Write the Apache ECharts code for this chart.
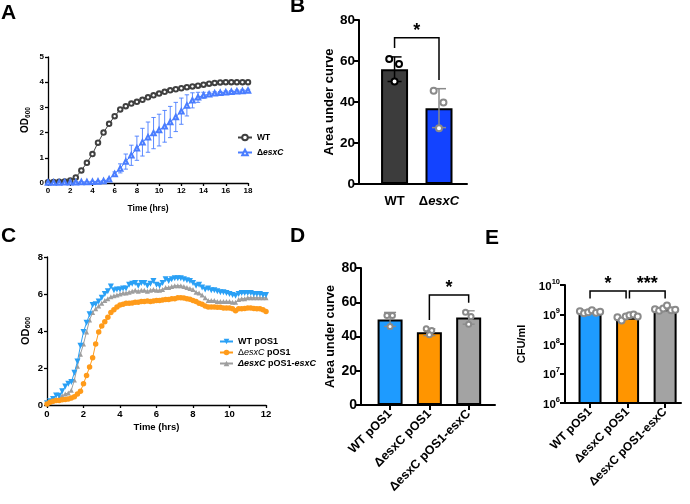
<!DOCTYPE html>
<html>
<head>
<meta charset="utf-8">
<script src="https://cdn.jsdelivr.net/npm/echarts@6/dist/echarts.min.js"></script>
<style>
html, body { margin: 0; padding: 0; background: #fff; }
#divChart { width: 690px; height: 504px; }
</style>
</head>
<body>
<div id="divChart"></div>
<script>
// ---------- panel A : growth curves, one reading every 0.5 h ----------
var stepA = 0.5;
var wtOdA   = [0.03,0.04,0.05,0.06,0.1,0.22,0.5,0.8,1.15,1.6,2.0,2.35,2.65,2.92,3.05,3.15,3.22,3.3,3.4,3.48,3.55,3.62,3.68,3.72,3.76,3.8,3.83,3.86,3.9,3.94,3.97,3.99,4.0,4.0,4.0,4.0,4.0];
var wtSdA   = [0.02,0.02,0.02,0.02,0.03,0.04,0.05,0.06,0.07,0.07,0.07,0.06,0.06,0.05,0.05,0.04,0.04,0.04,0.04,0.04,0.04,0.04,0.04,0.04,0.04,0.04,0.04,0.04,0.04,0.04,0.04,0.04,0.04,0.04,0.04,0.04,0.04];
var esxcOdA = [0.02,0.02,0.02,0.03,0.03,0.03,0.04,0.04,0.05,0.06,0.08,0.15,0.36,0.58,0.85,1.1,1.38,1.62,1.82,1.98,2.1,2.25,2.42,2.62,2.85,3.08,3.28,3.4,3.48,3.52,3.56,3.58,3.6,3.62,3.64,3.65,3.67];
var esxcSdA = [0.02,0.02,0.02,0.02,0.02,0.02,0.02,0.02,0.02,0.02,0.02,0.03,0.08,0.18,0.3,0.4,0.48,0.55,0.6,0.62,0.63,0.63,0.62,0.58,0.52,0.42,0.3,0.2,0.12,0.08,0.06,0.05,0.05,0.05,0.05,0.05,0.05];

// ---------- panel B : area under curve ----------
var catsB = ['WT', 'ΔesxC'];
var meanB = [56, 37];
var sdB = [6, 9.5];
var ptsB = [[61, 58.5, 50], [45.5, 39.8, 27.2]];

// ---------- panel C : growth curves, one reading every 10 min ----------
var stepC = 1 / 6;
var wtOdC = [0.1,0.2,0.32,0.52,0.5,0.75,1.0,1.15,1.25,1.75,2.35,3.2,3.95,4.45,4.9,5.4,5.45,5.6,5.8,6.0,
  6.15,6.4,6.2,6.25,6.25,6.3,6.3,6.5,6.55,6.6,6.45,6.6,6.6,6.45,6.55,6.7,6.5,6.45,6.6,6.8,
  6.7,6.8,6.85,6.85,6.85,6.8,6.75,6.7,6.6,6.45,6.5,6.35,6.25,6.3,6.2,6.2,6.15,6.1,6.1,6.05,
  6.0,5.95,5.9,6.0,6.05,6.05,6.05,6.05,6.0,6.0,6.0,5.95,5.95];
var mutOdC = [0.05,0.15,0.2,0.25,0.25,0.28,0.3,0.32,0.38,0.45,0.6,0.75,1.15,1.6,2.05,2.55,3.3,3.95,4.27,4.5,
  4.75,5.0,5.15,5.3,5.4,5.45,5.5,5.5,5.52,5.55,5.55,5.6,5.6,5.62,5.6,5.62,5.65,5.65,5.68,5.7,
  5.7,5.75,5.75,5.8,5.8,5.78,5.75,5.72,5.65,5.6,5.5,5.45,5.35,5.3,5.3,5.3,5.28,5.28,5.25,5.25,
  5.25,5.2,5.1,5.2,5.2,5.22,5.25,5.25,5.22,5.2,5.2,5.15,5.05];
var compOdC = [0.1,0.15,0.25,0.3,0.4,0.5,0.6,0.65,0.8,1.35,2.1,2.75,3.3,3.95,4.6,5.0,5.2,5.35,5.5,5.65,
  5.75,5.85,5.9,5.95,6.0,6.05,6.05,6.1,6.15,6.2,6.15,6.2,6.2,6.15,6.2,6.25,6.2,6.2,6.25,6.35,
  6.35,6.4,6.45,6.45,6.45,6.4,6.35,6.3,6.25,6.1,6.05,5.95,5.8,5.65,5.65,5.65,5.6,5.6,5.6,5.6,
  5.6,5.55,5.55,5.7,5.75,5.75,5.8,5.8,5.8,5.8,5.8,5.8,5.8];

// ---------- panels D and E ----------
var catsDE = ['WT pOS1', 'ΔesxC pOS1', 'ΔesxC pOS1-esxC'];
var meanD = [50, 42.5, 51.1];
var sdD = [4.1, 2.0, 3.9];
var ptsD = [[52.3, 52.3, 45.8], [44.5, 43.5, 41], [54.2, 51.7, 47.2]];
var meanE = [1.24e9, 7.8e8, 1.5e9];
var ptsE = [[1.3e9, 1.1e9, 1.2e9, 1.4e9, 1.15e9, 1.25e9],
            [8.0e8, 6.2e8, 8.5e8, 9.5e8, 1.0e9, 8.5e8],
            [1.5e9, 1.35e9, 1.6e9, 2.0e9, 1.4e9, 1.45e9]];

var FONT = '"Liberation Sans", Arial, sans-serif';
var colA = ['#404040', '#4a7dff'];
var colB = ['#3c3c3c', '#1343ff'];
var colC = ['#2aa0f5', '#ff9b1a', '#9e9e9e'];
var colDE = ['#1e9bff', '#ff9500', '#a3a3a3'];
var ptGray = '#8a8a8a';

// bar panels use a value x axis so the gaps match the original
var startB = 0.8, startD = 0.74, startE = 0.667;
var jitB = [-0.12, 0.1, 0];
var jitD = [-0.08, 0.06, 0];
var jitE = [-0.27, -0.16, -0.05, 0.05, 0.16, 0.27];

function seq(vals, step) {
  return vals.map(function (v, i) { return [i * step, v]; });
}

function errorBars(gi, rows, colors, cap, lw, z) {
  return {
    type: 'custom', xAxisIndex: gi, yAxisIndex: gi, z: z || 4, silent: true,
    encode: { x: 0, y: [1, 2] },
    data: rows,
    renderItem: function (params, api) {
      var x = api.value(0);
      var top = api.coord([x, api.value(2)]);
      var bot = api.coord([x, api.value(1)]);
      var c = typeof colors === 'string' ? colors : colors[params.dataIndex];
      var st = { stroke: c, lineWidth: lw };
      return { type: 'group', children: [
        { type: 'line', shape: { x1: top[0], y1: top[1], x2: bot[0], y2: bot[1] }, style: st },
        { type: 'line', shape: { x1: top[0] - cap, y1: top[1], x2: top[0] + cap, y2: top[1] }, style: st },
        { type: 'line', shape: { x1: bot[0] - cap, y1: bot[1], x2: bot[0] + cap, y2: bot[1] }, style: st }
      ] };
    }
  };
}

function brackets(gi, rows, marks) {
  return {
    type: 'custom', xAxisIndex: gi, yAxisIndex: gi, z: 6, silent: true,
    encode: { x: [0, 1], y: [2, 3, 4] },
    data: rows,
    renderItem: function (params, api) {
      var x1 = api.value(0), x2 = api.value(1);
      var a = api.coord([x1, api.value(3)]), b = api.coord([x1, api.value(2)]);
      var c = api.coord([x2, api.value(2)]), d = api.coord([x2, api.value(4)]);
      return { type: 'group', children: [
        { type: 'polyline', shape: { points: [a, b, c, d] }, style: { stroke: '#000', lineWidth: 1.5, fill: null } },
        { type: 'text', style: { text: marks[params.dataIndex], x: (b[0] + c[0]) / 2, y: b[1] + 2,
          align: 'center', verticalAlign: 'bottom', font: 'bold 18px ' + FONT, fill: '#000' } }
      ] };
    }
  };
}

function barSeries(gi, start, vals, colors, width) {
  return {
    type: 'bar', xAxisIndex: gi, yAxisIndex: gi, barWidth: width, z: 2, silent: true,
    data: vals.map(function (v, i) {
      return { value: [start + i, v], itemStyle: { color: colors[i], borderColor: '#000', borderWidth: 2 } };
    })
  };
}

function pointSeries(gi, start, pts, jit, colors, size) {
  var data = [];
  pts.forEach(function (row, i) {
    row.forEach(function (v, k) {
      data.push({ value: [start + i + jit[k], v], itemStyle: { color: typeof colors === 'string' ? colors : colors[i] } });
    });
  });
  return { type: 'scatter', xAxisIndex: gi, yAxisIndex: gi, z: 7, silent: true,
    symbol: 'emptyCircle', symbolSize: size, itemStyle: { borderWidth: 1.4, opacity: 1 }, data: data };
}

function lineAxis(o) {
  return Object.assign({
    type: 'value',
    axisLine: { show: true, onZero: false, lineStyle: { color: '#000', width: o.lw } },
    axisTick: { show: true, length: o.tick, lineStyle: { color: '#000', width: o.lw } },
    splitLine: { show: false },
    nameLocation: 'middle'
  }, o.extra);
}

var catFmt = {
  'WT': 'WT',
  'ΔesxC': 'Δ{i|esxC}'
};

var option = {
  animation: false,
  backgroundColor: '#fff',
  textStyle: { fontFamily: FONT },
  grid: [
    { left: 48, top: 57, width: 200, height: 126, outerBoundsMode: 'none' },
    { left: 359, top: 20, width: 108, height: 164, outerBoundsMode: 'none' },
    { left: 47, top: 257, width: 219, height: 148, outerBoundsMode: 'none' },
    { left: 361, top: 268, width: 134, height: 137, outerBoundsMode: 'none' },
    { left: 565, top: 285, width: 116, height: 118, outerBoundsMode: 'none' }
  ],
  xAxis: [
    lineAxis({ lw: 1.3, tick: 3, extra: { gridIndex: 0, min: 0, max: 18, interval: 2,
      axisLabel: { fontSize: 8, fontWeight: 'bold', color: '#000', margin: 4 },
      name: 'Time (hrs)', nameGap: 21, nameTextStyle: { fontSize: 8.5, fontWeight: 'bold', color: '#000' } } }),
    lineAxis({ lw: 2, tick: 0, extra: { gridIndex: 1, min: 0, max: 2.43,
      axisTick: { show: false },
      axisLabel: { customValues: catsB.map(function (c, i) { return startB + i; }), fontSize: 13, fontWeight: 'bold', color: '#000', margin: 11,
        formatter: function (v) { return catFmt[catsB[Math.round(v - startB)]]; },
        rich: { i: { fontSize: 13, fontWeight: 'bold', fontStyle: 'italic', color: '#000' } } } } }),
    lineAxis({ lw: 1.3, tick: 3, extra: { gridIndex: 2, min: 0, max: 12, interval: 2,
      axisLabel: { fontSize: 9.5, fontWeight: 'bold', color: '#000', margin: 4 },
      name: 'Time (hrs)', nameGap: 17, nameTextStyle: { fontSize: 9.5, fontWeight: 'bold', color: '#000' } } }),
    lineAxis({ lw: 2, tick: 5, extra: { gridIndex: 3, min: 0, max: 3.41,
      axisTick: { show: true, length: 5, customValues: catsDE.map(function (c, i) { return startD + i; }), lineStyle: { color: '#000', width: 2 } },
      axisLabel: { customValues: catsDE.map(function (c, i) { return startD + i; }), rotate: 45, fontSize: 12.5, fontWeight: 'bold', color: '#000', margin: 7,
        formatter: function (v) { return catsDE[Math.round(v - startD)]; } } } }),
    lineAxis({ lw: 2, tick: 5, extra: { gridIndex: 4, min: 0, max: 3.09,
      axisTick: { show: true, length: 5, customValues: catsDE.map(function (c, i) { return startE + i; }), lineStyle: { color: '#000', width: 2 } },
      axisLabel: { customValues: catsDE.map(function (c, i) { return startE + i; }), rotate: 45, fontSize: 12, fontWeight: 'bold', color: '#000', margin: 7,
        formatter: function (v) { return catsDE[Math.round(v - startE)]; } } } })
  ],
  yAxis: [
    lineAxis({ lw: 1.3, tick: 3, extra: { gridIndex: 0, min: 0, max: 5, interval: 1,
      axisLabel: { fontSize: 8, fontWeight: 'bold', color: '#000', margin: 4 },
      name: 'OD{s|600}', nameGap: 16,
      nameTextStyle: { fontSize: 10, fontWeight: 'bold', color: '#000',
        rich: { s: { fontSize: 6.5, fontWeight: 'bold', color: '#000', verticalAlign: 'bottom', padding: [6, 0, 0, 0] } } } } }),
    lineAxis({ lw: 2, tick: 5, extra: { gridIndex: 1, min: 0, max: 80, interval: 20,
      axisLabel: { fontSize: 13.5, fontWeight: 'bold', color: '#000', margin: 4 },
      name: 'Area under curve', nameGap: 22, nameTextStyle: { fontSize: 13, fontWeight: 'bold', color: '#000' } } }),
    lineAxis({ lw: 1.3, tick: 3, extra: { gridIndex: 2, min: 0, max: 8, interval: 2,
      axisLabel: { fontSize: 9.5, fontWeight: 'bold', color: '#000', margin: 4 },
      name: 'OD{s|600}', nameGap: 15,
      nameTextStyle: { fontSize: 11, fontWeight: 'bold', color: '#000',
        rich: { s: { fontSize: 7, fontWeight: 'bold', color: '#000', verticalAlign: 'bottom', padding: [6, 0, 0, 0] } } } } }),
    lineAxis({ lw: 2, tick: 5, extra: { gridIndex: 3, min: 0, max: 80, interval: 20,
      axisLabel: { fontSize: 14, fontWeight: 'bold', color: '#000', margin: 4 },
      name: 'Area under curve', nameGap: 24, nameTextStyle: { fontSize: 12.5, fontWeight: 'bold', color: '#000' } } }),
    lineAxis({ lw: 2, tick: 5, extra: { gridIndex: 4, type: 'log', logBase: 10, min: 1e6, max: 1e10,
      axisLabel: { color: '#000', margin: 5,
        formatter: function (v) { return '{b|10}{s|' + Math.round(Math.log10(v)) + '}'; },
        rich: { b: { fontSize: 11.5, fontWeight: 'bold', color: '#000', verticalAlign: 'bottom', lineHeight: 15 },
                s: { fontSize: 7.5, fontWeight: 'bold', color: '#000', verticalAlign: 'top', lineHeight: 9 } } },
      name: 'CFU/ml', nameGap: 38, nameTextStyle: { fontSize: 11, fontWeight: 'bold', color: '#000' } } })
  ],
  legend: [
    { orient: 'vertical', left: 232, top: 128, itemWidth: 14, itemHeight: 7, itemGap: 6, selectedMode: false,
      data: ['WT', 'ΔesxC'],
      formatter: function (n) { return catFmt[n]; },
      textStyle: { fontSize: 8.5, fontWeight: 'bold', color: '#000',
        rich: { i: { fontSize: 8.5, fontWeight: 'bold', fontStyle: 'italic', color: '#000' } } } },
    { orient: 'vertical', left: 214, top: 332, itemWidth: 13, itemHeight: 7, itemGap: 2, selectedMode: false,
      data: ['WT pOS1', 'ΔesxC pOS1', 'ΔesxC pOS1-esxC'],
      formatter: function (n) {
        if (n === 'ΔesxC pOS1') return '{n|Δ}{i|esxC}{b| pOS1}';
        if (n === 'ΔesxC pOS1-esxC') return '{bi|ΔesxC}{b| pOS1-}{bi|esxC}';
        return '{b|' + n + '}';
      },
      textStyle: { fontSize: 9, color: '#000',
        rich: { b: { fontSize: 9, fontWeight: 'bold', color: '#000' },
                n: { fontSize: 9, color: '#000' },
                i: { fontSize: 9, fontStyle: 'italic', color: '#000' },
                bi: { fontSize: 9, fontWeight: 'bold', fontStyle: 'italic', color: '#000' } } } }
  ],
  graphic: [
    { type: 'text', left: 1, top: 3, style: { text: 'A', font: 'bold 21px ' + FONT, fill: '#000' } },
    { type: 'text', left: 290, top: -4, style: { text: 'B', font: 'bold 21px ' + FONT, fill: '#000' } },
    { type: 'text', left: 1, top: 226, style: { text: 'C', font: 'bold 21px ' + FONT, fill: '#000' } },
    { type: 'text', left: 290, top: 226, style: { text: 'D', font: 'bold 21px ' + FONT, fill: '#000' } },
    { type: 'text', left: 485, top: 228, style: { text: 'E', font: 'bold 21px ' + FONT, fill: '#000' } }
  ],
  series: [
    // A
    errorBars(0, wtOdA.map(function (v, i) { return [i * stepA, v - wtSdA[i], v + wtSdA[i]]; }), colA[0], 1.5, 0.8, 2),
    errorBars(0, esxcOdA.map(function (v, i) { return [i * stepA, v - esxcSdA[i], v + esxcSdA[i]]; }), colA[1], 2.2, 0.9, 2),
    { type: 'line', name: 'WT', xAxisIndex: 0, yAxisIndex: 0, data: seq(wtOdA, stepA), z: 3,
      symbol: 'emptyCircle', symbolSize: 4.5, lineStyle: { color: colA[0], width: 1 }, itemStyle: { color: colA[0], borderWidth: 1 } },
    { type: 'line', name: 'ΔesxC', xAxisIndex: 0, yAxisIndex: 0, data: seq(esxcOdA, stepA), z: 3,
      symbol: 'emptyTriangle', symbolSize: 4.5, lineStyle: { color: colA[1], width: 1 }, itemStyle: { color: colA[1], borderWidth: 1 } },
    // B
    barSeries(1, startB, meanB, colB, 27),
    errorBars(1, meanB.map(function (m, i) { return [startB + i, m - sdB[i], m + sdB[i]]; }), ['#000', ptGray], 7, 1.5, 5),
    pointSeries(1, startB, ptsB, jitB, ['#000', ptGray], 6),
    brackets(1, [[startB, startB + 1, 71.4, 66.3, 50.7]], ['*']),
    // C
    { type: 'line', name: 'ΔesxC pOS1-esxC', xAxisIndex: 2, yAxisIndex: 2, data: seq(compOdC, stepC), z: 3,
      symbol: 'triangle', symbolSize: 5, lineStyle: { color: colC[2], width: 1 }, itemStyle: { color: colC[2] } },
    { type: 'line', name: 'WT pOS1', xAxisIndex: 2, yAxisIndex: 2, data: seq(wtOdC, stepC), z: 4,
      symbol: 'triangle', symbolRotate: 180, symbolSize: 6, lineStyle: { color: colC[0], width: 1 }, itemStyle: { color: colC[0] } },
    { type: 'line', name: 'ΔesxC pOS1', xAxisIndex: 2, yAxisIndex: 2, data: seq(mutOdC, stepC), z: 5,
      symbol: 'circle', symbolSize: 5.5, lineStyle: { color: colC[1], width: 1 }, itemStyle: { color: colC[1] } },
    // D
    barSeries(3, startD, meanD, colDE, 25),
    errorBars(3, meanD.map(function (m, i) { return [startD + i, m - sdD[i], m + sdD[i]]; }), ptGray, 6, 1.3, 5),
    pointSeries(3, startD, ptsD, jitD, ptGray, 5),
    brackets(3, [[startD + 1, startD + 2, 64.2, 49.6, 59.7]], ['*']),
    // E
    barSeries(4, startE, meanE, colDE, 23),
    pointSeries(4, startE, ptsE, jitE, ptGray, 6),
    brackets(4, [[startE, startE + 0.96, 6.2e9, 3.5e9, 3.5e9], [startE + 1.05, startE + 2, 6.2e9, 3.5e9, 3.5e9]], ['*', '***'])
  ]
};

var divChart = echarts.init(document.getElementById('divChart'));
divChart.setOption(option);
</script>
</body>
</html>
